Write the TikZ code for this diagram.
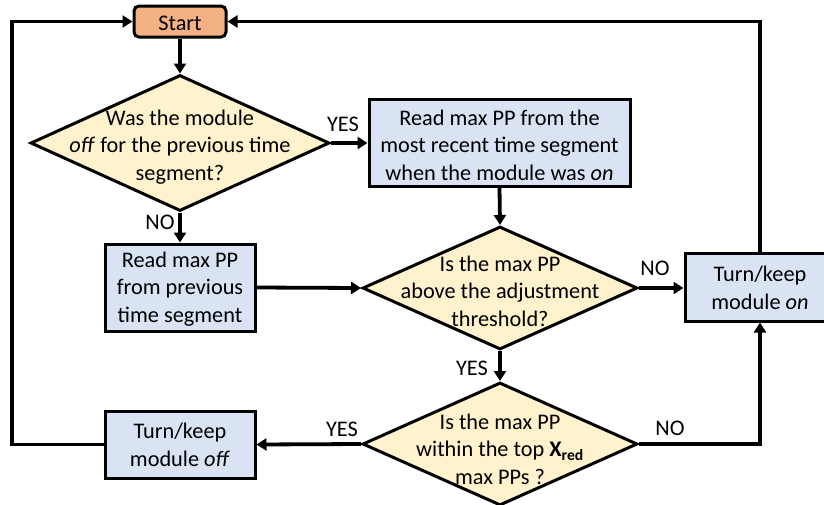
\documentclass[tikz,border=0pt]{standalone}
\usepackage{fontspec}
\setmainfont{Carlito}
\usetikzlibrary{shapes.geometric,arrows.meta}
\definecolor{startfill}{HTML}{F4B183}
\definecolor{diafill}{HTML}{FFF2CC}
\definecolor{boxfill}{HTML}{DAE3F3}
\tikzset{
  txt/.style={font=\fontsize{22.3pt}{27.5pt}\selectfont, align=center, inner sep=0pt},
  lbl/.style={font=\fontsize{22.3pt}{27.5pt}\selectfont, inner sep=0pt},
  procbox/.style={draw=black, line width=3pt, fill=boxfill, inner sep=0pt},
  startbox/.style={draw=black, line width=3pt, fill=startfill, rounded corners=5pt, inner sep=0pt, minimum width=92pt, minimum height=31pt},
  dia/.style={draw=black, line width=3pt, fill=diafill, shape=diamond, inner sep=0pt},
  conn/.style={line width=3.8pt, -{Triangle[length=10pt,width=12pt]}},
}
\begin{document}
\begin{tikzpicture}[x=1pt,y=-1pt]
\useasboundingbox (0,0) rectangle (824,504);
% nodes
\node[startbox] (start) at (180,21.5) {};
\node[txt] (starttxt) at (180,23) {Start};
\node[dia, minimum width=299pt, minimum height=136pt] (d1) at (180,143) {};
\node[txt] (d1txt) at (180,147) {Was the module\\\textit{off} for the previous time\\segment?};
\node[procbox, minimum width=261pt, minimum height=87pt] (b1) at (499.5,142.5) {};
\node[txt] (b1txt) at (499.5,145) {Read max PP from the\\most recent time segment\\when the module was \textit{on}};
\node[procbox, minimum width=150pt, minimum height=87pt] (b2) at (180,287.5) {};
\node[txt] (b2txt) at (180,289) {Read max PP\\from previous\\time segment};
\node[dia, minimum width=275pt, minimum height=123pt] (d2) at (500,288) {};
\node[txt] (d2txt) at (500,291) {Is the max PP\\above the adjustment\\threshold?};
\node[procbox, minimum width=150pt, minimum height=68pt] (bon) at (760,287) {};
\node[txt] (bontxt) at (760,288) {Turn/keep\\module \textit{on}};
\node[dia, minimum width=275pt, minimum height=123pt] (d3) at (500,444) {};
\node[txt] (d3txt) at (500,449) {Is the max PP\\within the top \textbf{X\textsubscript{red}}\\max PPs ?};
\node[procbox, minimum width=150pt, minimum height=67pt] (boff) at (180,444.5) {};
\node[txt] (bofftxt) at (180,445) {Turn/keep\\module \textit{off}};
% helper coordinates
\coordinate (lb) at (12,444.5);
\coordinate (lt) at (12,21.5);
\coordinate (rt) at (760,21.5);
% connectors
\draw[conn] (start.south) -- (d1.north);
\draw[conn] (d1.east) -- (b1.west |- d1.east);
\draw[conn] (d1.south) -- (b2.north);
\draw[conn] (b1.south) -- (d2.north);
\draw[conn] (b2.east) -- (d2.west);
\draw[conn] (d2.east) -- (bon.west |- d2.east);
\draw[conn] (d2.south) -- (d3.north);
\draw[conn] (d3.west) -- (boff.east);
\draw[conn] (d3.east) -| (bon.south);
\draw[conn] (boff.west) -- (lb) -- (lt) -- (start.west);
\draw[conn] (bon.north) -- (rt) -- (start.east);
% labels
\node[lbl] (l1) at (343,124) {YES};
\node[lbl] (l2) at (160,222) {NO};
\node[lbl] (l3) at (655,268) {NO};
\node[lbl] (l4) at (472,368) {YES};
\node[lbl] (l5) at (342,429) {YES};
\node[lbl] (l6) at (670,428) {NO};
\end{tikzpicture}
\end{document}
